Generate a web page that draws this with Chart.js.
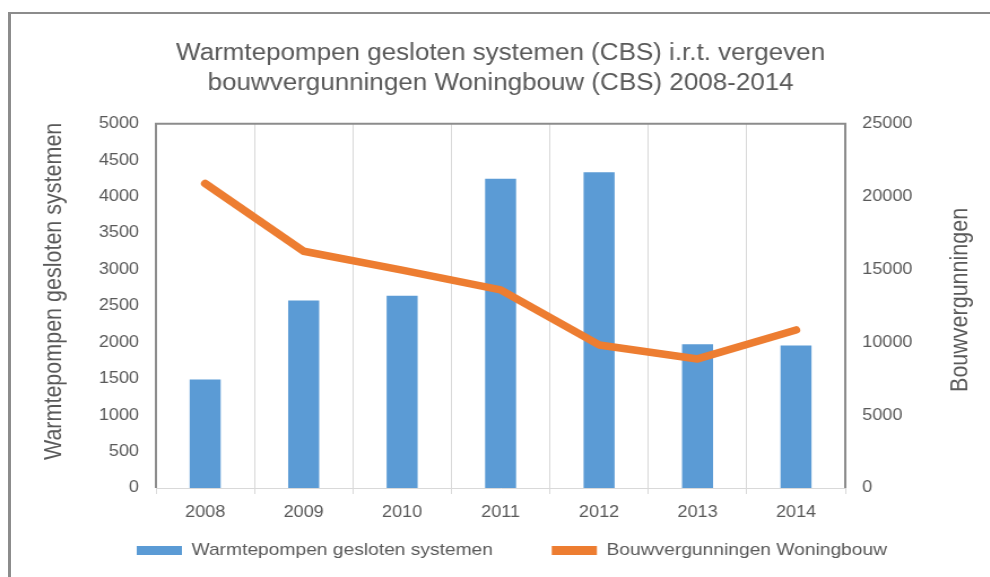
<!DOCTYPE html>
<html>
<head>
<meta charset="utf-8">
<script src="https://cdn.jsdelivr.net/npm/chart.js@4"></script>
<style>
html,body{margin:0;padding:0;background:#fff;overflow:hidden;}
#stage{position:relative;width:990px;height:577px;overflow:hidden;background:#fff;}
#wrap{position:absolute;left:0;top:0;width:876px;height:577px;transform:scaleX(1.13);transform-origin:0 0;}
#frame{position:absolute;left:8px;top:12px;width:1000px;height:600px;border-top:2px solid #8c8c8c;border-left:3px solid #8c8c8c;pointer-events:none;}
</style>
</head>
<body>
<div id="stage">
  <div id="wrap"><canvas id="c" width="876" height="577"></canvas></div>
  <div id="frame"></div>
</div>
<script>
// ---- data ----
const categories = ['2008', '2009', '2010', '2011', '2012', '2013', '2014'];
const warmtepompen = [1490, 2575, 2640, 4245, 4335, 1975, 1955];
const bouwvergunningen = [20900, 16250, 14950, 13600, 9820, 8860, 10850];
const seriesNames = ['Warmtepompen gesloten systemen', 'Bouwvergunningen Woningbouw'];
const titleLines = ['Warmtepompen gesloten systemen (CBS) i.r.t. vergeven', 'bouwvergunningen Woningbouw (CBS) 2008-2014'];
const leftAxisTitle = 'Warmtepompen gesloten systemen';
const rightAxisTitle = 'Bouwvergunningen';
const leftTicks = [0, 500, 1000, 1500, 2000, 2500, 3000, 3500, 4000, 4500, 5000];
const rightTicks = [0, 5000, 10000, 15000, 20000, 25000];

// ---- styling ----
const FONT = "'Liberation Sans', Arial, sans-serif";
const TEXT = '#595959';
const BLUE = '#5B9BD5';
const ORANGE = '#ED7D31';

// frame of the plot area (top, left, right), drawn from the chart area
const plotFrame = {
  id: 'plotFrame',
  beforeDatasetsDraw(chart) {
    const {ctx, chartArea: {left, right, top, bottom}} = chart;
    ctx.save();
    ctx.strokeStyle = '#8c8c8c';
    ctx.lineWidth = 2;
    ctx.beginPath();
    ctx.moveTo(left, bottom);
    ctx.lineTo(left, top);
    ctx.lineTo(right, top);
    ctx.lineTo(right, bottom);
    ctx.stroke();
    ctx.restore();
  }
};

// both axis titles read bottom-to-top, as in the original
const axisTitles = {
  id: 'axisTitles',
  afterDraw(chart) {
    const {ctx, chartArea, scales: {y, y1}} = chart;
    const cy = (chartArea.top + chartArea.bottom) / 2;
    ctx.save();
    ctx.fillStyle = TEXT;
    ctx.font = `21.5px ${FONT}`;
    ctx.textAlign = 'center';
    ctx.textBaseline = 'middle';
    ctx.translate(y.left + 38, cy - 14.5);
    ctx.rotate(-Math.PI / 2);
    ctx.fillText(leftAxisTitle, 0, 0);
    ctx.restore();
    ctx.save();
    ctx.fillStyle = TEXT;
    ctx.font = `21.5px ${FONT}`;
    ctx.textAlign = 'center';
    ctx.textBaseline = 'middle';
    ctx.translate(y1.right - 25.6, cy - 6);
    ctx.rotate(-Math.PI / 2);
    ctx.fillText(rightAxisTitle, 0, 0);
    ctx.restore();
  }
};

// move the legend row up close to the axis labels and a little to the right
const legendNudge = {
  id: 'legendNudge',
  afterLayout(chart) {
    const lg = chart.legend;
    if (!lg) return;
    const dy = -31, dx = 10;
    lg.top += dy;
    lg.height = lg.bottom - lg.top;
    lg.left += dx; lg.right += dx;
  }
};

new Chart(document.getElementById('c'), {
  type: 'bar',
  data: {
    labels: categories,
    datasets: [
      {
        type: 'bar',
        label: seriesNames[0],
        data: warmtepompen,
        backgroundColor: BLUE,
        yAxisID: 'y',
        barPercentage: 0.315,
        categoryPercentage: 1,
        order: 1
      },
      {
        type: 'line',
        label: seriesNames[1],
        data: bouwvergunningen,
        borderColor: ORANGE,
        backgroundColor: ORANGE,
        borderWidth: 7.5,
        borderCapStyle: 'round',
        borderJoinStyle: 'round',
        pointRadius: 0,
        tension: 0,
        yAxisID: 'y1',
        order: 0
      }
    ]
  },
  options: {
    responsive: false,
    devicePixelRatio: 1,
    animation: false,
    layout: {padding: {left: 10, right: 0, top: 0, bottom: 0}},
    plugins: {
      title: {
        display: true,
        text: titleLines,
        color: TEXT,
        font: {family: FONT, size: 23, weight: 'normal', lineHeight: 1.3},
        padding: {top: 39, bottom: 25}
      },
      legend: {
        position: 'bottom',
        maxHeight: 56,
        labels: {
          color: TEXT,
          font: {family: FONT, size: 17},
          boxWidth: 40,
          boxHeight: 9,
          padding: 52,
          generateLabels(chart) {
            return chart.data.datasets.map((ds, i) => ({
              text: ds.label,
              fillStyle: ds.backgroundColor,
              strokeStyle: ds.backgroundColor,
              lineWidth: 0,
              hidden: false,
              datasetIndex: i,
              fontColor: TEXT
            }));
          }
        }
      },
      tooltip: {enabled: false}
    },
    scales: {
      x: {
        grid: {display: true, offset: true, color: '#d9d9d9', lineWidth: 1, tickLength: 6, drawOnChartArea: true},
        border: {display: true, color: '#d9d9d9', width: 1},
        ticks: {color: TEXT, font: {family: FONT, size: 16}, padding: 9, maxRotation: 0},
        afterFit(s) { s.height = 33; }
      },
      y: {
        position: 'left',
        min: leftTicks[0],
        max: leftTicks[leftTicks.length - 1],
        afterBuildTicks(s) { s.ticks = leftTicks.map(v => ({value: v})); },
        ticks: {color: TEXT, font: {family: FONT, size: 16}, padding: 15, callback: v => String(v)},
        grid: {display: false, drawTicks: false, tickLength: 0},
        border: {display: false},
        afterFit(s) { s.width = 128; }
      },
      y1: {
        position: 'right',
        min: rightTicks[0],
        max: rightTicks[rightTicks.length - 1],
        afterBuildTicks(s) { s.ticks = rightTicks.map(v => ({value: v})); },
        ticks: {color: TEXT, font: {family: FONT, size: 16}, padding: 15, callback: v => String(v)},
        grid: {display: false, drawTicks: false, tickLength: 0},
        border: {display: false},
        afterFit(s) { s.width = 128; }
      }
    }
  },
  plugins: [plotFrame, axisTitles, legendNudge]
});
</script>
</body>
</html>
